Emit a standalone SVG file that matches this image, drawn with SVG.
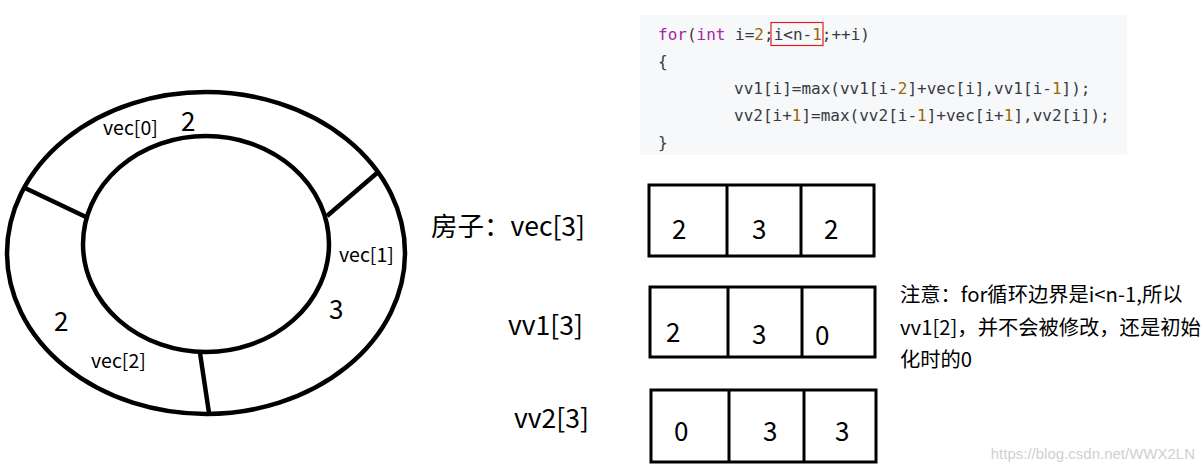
<svg xmlns="http://www.w3.org/2000/svg" width="1204" height="470" viewBox="0 0 1204 470">
<style>
.ring{fill:none;stroke:#000;stroke-width:4.5}
.div{stroke:#000;stroke-width:4.5}
.box{fill:#fff;stroke:#000;stroke-width:3}
.cell{stroke:#000;stroke-width:3}
.lab{font-family:"Noto Sans CJK SC","Noto Sans",sans-serif;fill:#000}
.code{font-family:"DejaVu Sans Mono","Liberation Mono",monospace;font-size:16px;fill:#383a42}
.kw{fill:#a626a4}
.num{fill:#986801}
.note{font-family:"Noto Sans CJK SC","Noto Sans",sans-serif;font-size:20.3px;fill:#000}
</style>
<rect width="1204" height="470" fill="#fff"/>
<g id="code">
<rect x="640" y="15" width="487" height="140" fill="#f6f8fa"/>
<text class="code" x="658" y="40"><tspan class="kw">for</tspan>(<tspan class="kw">int</tspan> i=<tspan class="num">2</tspan>;i&lt;n-<tspan class="num">1</tspan>;++i)</text>
<text class="code" x="658" y="67">{</text>
<text class="code" x="734" y="94">vv1[i]=max(vv1[i-<tspan class="num">2</tspan>]+vec[i],vv1[i-<tspan class="num">1</tspan>]);</text>
<text class="code" x="734" y="121">vv2[i+<tspan class="num">1</tspan>]=max(vv2[i-<tspan class="num">1</tspan>]+vec[i+<tspan class="num">1</tspan>],vv2[i]);</text>
<text class="code" x="658" y="148">}</text>
<rect x="771" y="22.5" width="52" height="23" fill="none" stroke="#e02020" stroke-width="1.2"/>
</g>
<g id="ring">
<ellipse class="ring" cx="206" cy="253" rx="199" ry="161"/>
<ellipse class="ring" cx="206" cy="244" rx="123" ry="108"/>
</g>
<g id="connectors">
<line class="div" x1="25" y1="188" x2="86" y2="217"/>
<line class="div" x1="377" y1="173" x2="327" y2="216"/>
<line class="div" x1="200" y1="353" x2="209" y2="413"/>
</g>
<g id="ring-labels">
<text class="lab" x="103" y="135" font-size="19.5">vec[0]</text>
<text class="lab" x="181" y="131" font-size="26">2</text>
<text class="lab" x="339" y="262" font-size="19.5">vec[1]</text>
<text class="lab" x="329" y="319" font-size="26">3</text>
<text class="lab" x="54" y="331" font-size="26">2</text>
<text class="lab" x="91" y="368" font-size="19.5">vec[2]</text>
</g>
<g id="vec">
<text class="lab" x="431" y="236" font-size="26.5">房子：vec[3]</text>
<rect class="box" x="649" y="185" width="225" height="71"/>
<line class="cell" x1="727" y1="185" x2="727" y2="256"/>
<line class="cell" x1="801" y1="185" x2="801" y2="256"/>
<text class="lab" x="672" y="239" font-size="26">2</text>
<text class="lab" x="752" y="239" font-size="26">3</text>
<text class="lab" x="824" y="239" font-size="26">2</text>
</g>
<g id="vv1">
<text class="lab" x="508" y="335" font-size="26.5">vv1[3]</text>
<rect class="box" x="650" y="287" width="225" height="70"/>
<line class="cell" x1="728" y1="287" x2="728" y2="357"/>
<line class="cell" x1="802" y1="287" x2="802" y2="357"/>
<text class="lab" x="666" y="342" font-size="26">2</text>
<text class="lab" x="752" y="344" font-size="26">3</text>
<text class="lab" x="815" y="345" font-size="26">0</text>
</g>
<g id="vv2">
<text class="lab" x="514" y="428" font-size="26.5">vv2[3]</text>
<rect class="box" x="651" y="390" width="225" height="72"/>
<line class="cell" x1="729" y1="390" x2="729" y2="462"/>
<line class="cell" x1="804" y1="390" x2="804" y2="462"/>
<text class="lab" x="674" y="441" font-size="26">0</text>
<text class="lab" x="763" y="441" font-size="26">3</text>
<text class="lab" x="835" y="441" font-size="26">3</text>
</g>
<g id="note">
<text class="note" x="900" y="302">注意：for循环边界是i&lt;n-1,所以</text>
<text class="note" x="900" y="335">vv1[2]，并不会被修改，还是初始</text>
<text class="note" x="900" y="367">化时的0</text>
</g>
<text x="1195" y="459" text-anchor="end" font-family="Liberation Sans, sans-serif" font-size="15" fill="#d0d0d0">https://blog.csdn.net/WWX2LN</text>
</svg>
